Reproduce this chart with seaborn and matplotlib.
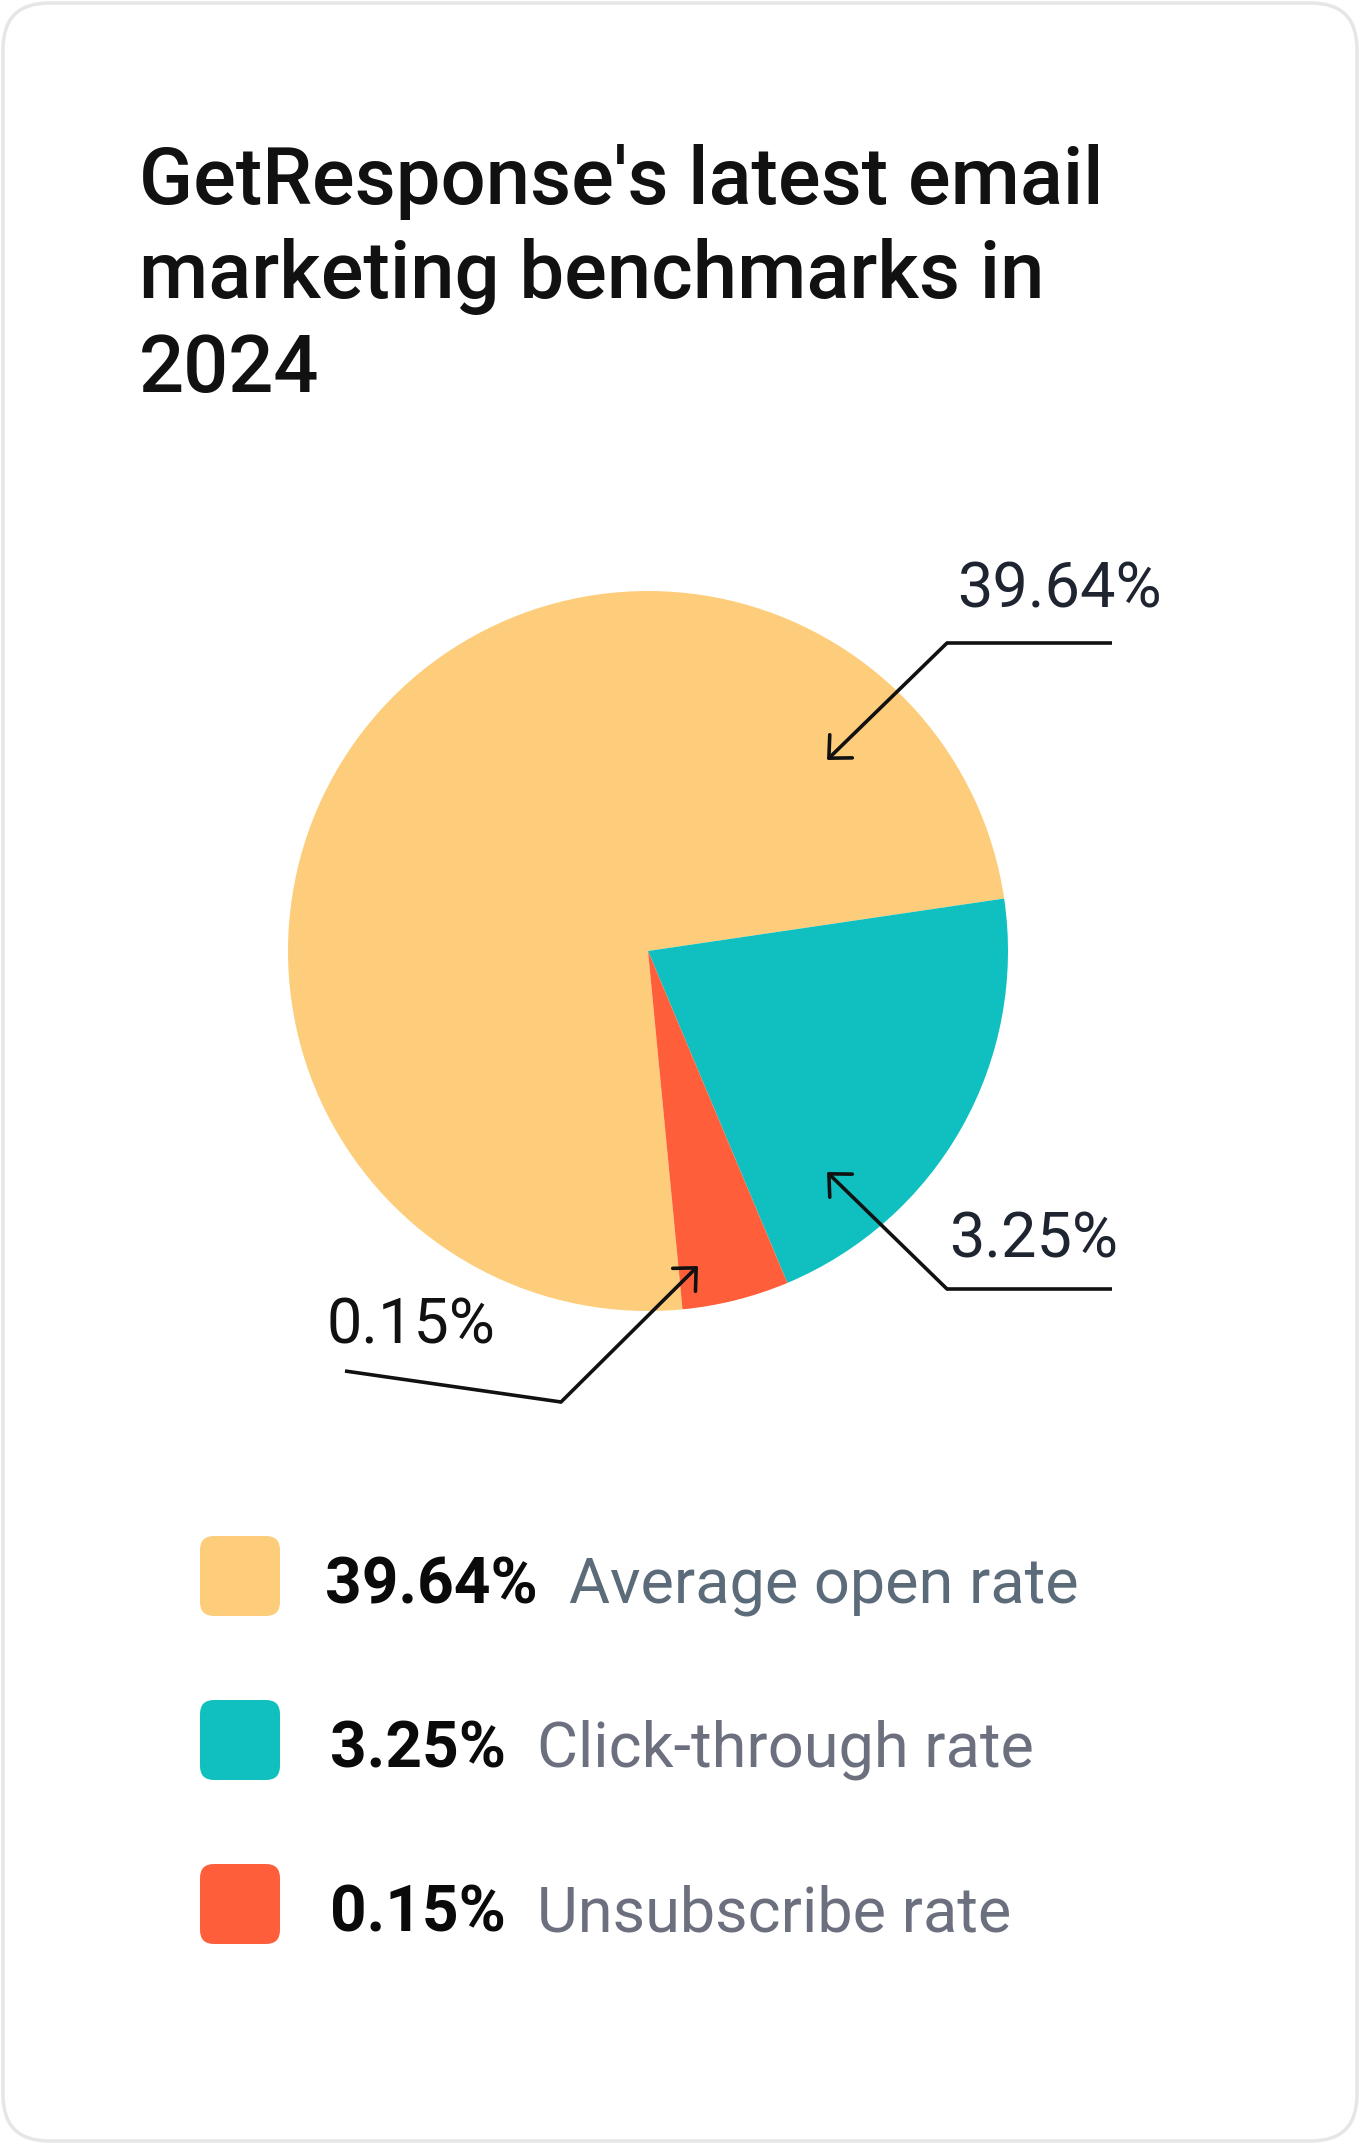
import matplotlib
matplotlib.use("Agg")
import matplotlib.pyplot as plt
import seaborn as sns
from matplotlib.patches import FancyBboxPatch

# data
labels = ["Average open rate", "Click-through rate", "Unsubscribe rate"]
values = ["39.64%", "3.25%", "0.15%"]
# the slices are not drawn to scale with the values, so their shares are read from the picture
slice_share = [74.2, 21.0, 4.8]
colors = ["#FDCD7B", "#10C0C0", "#FF5E3A"]

sns.set_theme(style="white")
plt.rcParams["font.family"] = ["Roboto", "DejaVu Sans"]

W, H = 1360, 2144
fig = plt.figure(figsize=(W / 100, H / 100), dpi=100)
ax = fig.add_axes([0, 0, 1, 1])


def Y(y):
    return H - y


def pt(px):
    return px * 72 / 100


# pie
ax.pie(slice_share, colors=colors, startangle=-84.5, counterclock=False,
       center=(648, Y(951)), radius=360, frame=True,
       wedgeprops=dict(linewidth=0))
ax.set_xlim(0, W)
ax.set_ylim(0, H)
ax.axis("off")

# card border
card = FancyBboxPatch((3, 3), W - 6, H - 6, boxstyle="round,pad=0,rounding_size=46",
                      facecolor="none", edgecolor="#E6E6E6", linewidth=pt(3.5), zorder=0)
ax.add_patch(card)

# title (baseline of the last line)
ax.text(139, Y(392), "GetResponse's latest email\nmarketing benchmarks in\n2024",
        fontsize=pt(79.5), fontweight="medium", color="#111111", va="baseline",
        ha="left", linespacing=1.29, multialignment="left")

# callouts
line_kw = dict(color="#111111", lw=pt(3.6), solid_capstyle="butt")
callouts = [
    # text pos, start, elbow, tip, text color
    ((957, 608), (1112, 643), (947, 643), (827, 760), "#1E2430"),
    ((949, 1257), (1112, 1289), (947, 1289), (827, 1172), "#1E2430"),
    ((326, 1343), (345, 1371), (561, 1402), (698, 1266), "#111111"),
]
for v, (tp, start, elbow, tip, tc) in zip(values, callouts):
    ax.text(tp[0], Y(tp[1]), v, fontsize=pt(63), color=tc, va="baseline", ha="left")
    ax.plot([start[0], elbow[0]], [Y(start[1]), Y(elbow[1])], **line_kw)
    ax.annotate("", xy=(tip[0], Y(tip[1])), xytext=(elbow[0], Y(elbow[1])),
                arrowprops=dict(arrowstyle="->,head_length=1.0,head_width=0.95",
                                mutation_scale=pt(17), color="#111111",
                                lw=pt(3.6), shrinkA=0, shrinkB=0))

# legend
label_colors = ["#5B6B7A", "#6B6F7E", "#6B6F7E"]
value_x = [325, 330, 330]
row_top = [1536, 1700, 1864]
fig.canvas.draw()
renderer = fig.canvas.get_renderer()
for i in range(len(labels)):
    ax.add_patch(FancyBboxPatch((200, Y(row_top[i] + 80)), 80, 80,
                                boxstyle="round,pad=0,rounding_size=14",
                                facecolor=colors[i], edgecolor="none"))
    base = row_top[i] + 67
    t = ax.text(value_x[i], Y(base), values[i], fontsize=pt(64), fontweight="bold",
                color="#0A0A0A", va="baseline", ha="left")
    bb = t.get_window_extent(renderer)
    ax.text(bb.x1 + 31, Y(base), labels[i], fontsize=pt(63), color=label_colors[i],
            va="baseline", ha="left")

fig.savefig("out.png", dpi=100, facecolor="white")
